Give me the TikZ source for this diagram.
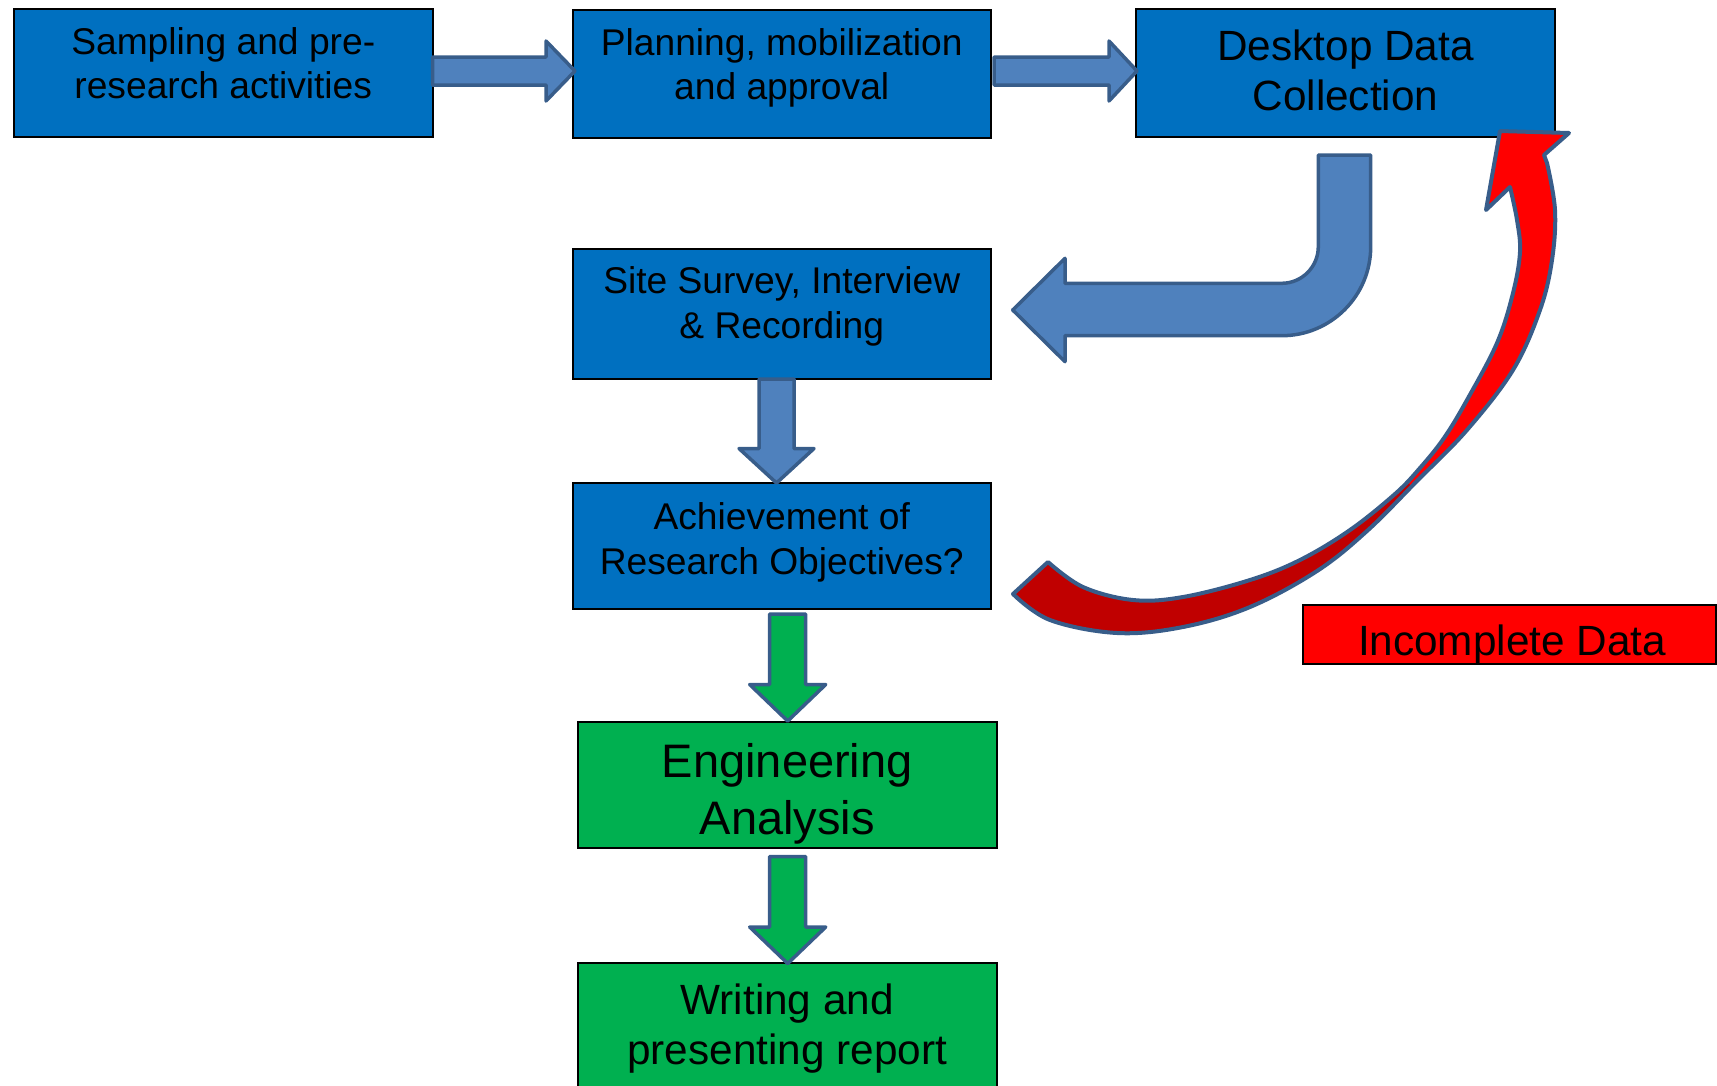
\documentclass[tikz,border=0pt]{standalone}
\usepackage{fontspec}
\setmainfont{Liberation Sans}
\usetikzlibrary{calc}
\definecolor{boxblue}{HTML}{0070C0}
\definecolor{arrblue}{HTML}{4F81BD}
\definecolor{arrline}{HTML}{385D8A}
\definecolor{boxgreen}{HTML}{00B050}
\definecolor{boxred}{HTML}{FF0000}
\definecolor{darkred}{HTML}{C00000}
\newcommand\hblock[6]{\draw[#1] let \p1=#2, \p2=#3 in ({\x1},{\y1+#4}) -- ({\x2-#6},{\y1+#4}) -- ({\x2-#6},{\y1+#5}) -- (\x2,\y2) -- ({\x2-#6},{\y1-#5}) -- ({\x2-#6},{\y1-#4}) -- ({\x1},{\y1-#4}) -- cycle;}
\newcommand\vblock[6]{\draw[#1] let \p1=#2, \p2=#3 in ({\x2-#4},{\y1}) -- ({\x2-#4},{\y2+#6}) -- ({\x2-#5},{\y2+#6}) -- (\x2,\y2) -- ({\x2+#5},{\y2+#6}) -- ({\x2+#4},{\y2+#6}) -- ({\x2+#4},{\y1}) -- cycle;}
\newcommand\ribbonpath{plot[smooth, tension=0.6] coordinates {(1013,594) (1050,620) (1117,633) (1183,627) (1250,607) (1317,571) (1367,531) (1417,481) (1467,430) (1513,370) (1540,310) (1552,260) (1555,210) (1547,163)}
  -- (1544,155) -- (1569,133) -- (1500,131) -- (1486,210) -- (1510,187)
  -- plot[smooth, tension=0.6] coordinates {(1510,187) (1517,220) (1520,252) (1513,293) (1497,343) (1467,400) (1444,438) (1420,468) (1395,494) (1350,530) (1300,560) (1250,580) (1183,597) (1133,600) (1083,587) (1048,562)} -- cycle}
\tikzset{
  box/.style={draw=black, line width=2pt, inner sep=0pt, outer sep=0pt, minimum width=418.5pt},
  txt/.style={inner sep=0pt, anchor=base, text=black},
  fs/.style={font=\fontsize{37.2pt}{44pt}\selectfont},
  fm/.style={font=\fontsize{42.3pt}{50pt}\selectfont},
  fl/.style={font=\fontsize{47pt}{56pt}\selectfont},
  barrow/.style={fill=arrblue, draw=arrline, line width=3.5pt, line join=round},
  garrow/.style={fill=boxgreen, draw=arrline, line width=3.5pt, line join=round},
  redarrow/.style={draw=arrline, line width=4pt, line join=round}
}
\begin{document}
\begin{tikzpicture}[x=1pt,y=-1pt]
\useasboundingbox (0,0) rectangle (1717,1085);
% boxes
\node[box, fill=boxblue, minimum height=128pt] (b1) at (223.25,72.5) {};
\node[box, fill=boxblue, minimum height=128pt] (b2) at (781.75,74) {};
\node[box, fill=boxblue, minimum height=128pt, minimum width=419pt] (b3) at (1345.5,72.5) {};
\node[box, fill=boxblue, minimum height=130.5pt] (b4) at (781.75,313.75) {};
\node[box, fill=boxblue, minimum height=126pt] (b5) at (781.75,546) {};
\node[box, fill=boxgreen, minimum height=126pt] (b6) at (787.25,785) {};
\node[box, fill=boxgreen, minimum height=137pt] (b7) at (787.25,1031.5) {};
\node[box, fill=boxred, minimum height=59pt, minimum width=413.5pt] (b8) at (1509.25,634.5) {};
% texts
\node[txt, fs] (t1a) at (223.25,54) {Sampling and pre-};
\node[txt, fs] (t1b) at (223.25,98) {research activities};
\node[txt, fs] (t2a) at (781.75,55) {Planning, mobilization};
\node[txt, fs] (t2b) at (781.75,99.5) {and approval};
\node[txt, fm] (t3a) at (1345.5,60) {Desktop Data};
\node[txt, fm] (t3b) at (1345.5,110) {Collection};
\node[txt, fs] (t4a) at (781.75,293.5) {Site Survey, Interview};
\node[txt, fs] (t4b) at (781.75,338) {\& Recording};
\node[txt, fs] (t5a) at (781.75,529.5) {Achievement of};
\node[txt, fs] (t5b) at (781.75,574) {Research Objectives?};
\node[txt, fl] (t6a) at (787.25,777.5) {Engineering};
\node[txt, fl] (t6b) at (787.25,834) {Analysis};
\node[txt, fm] (t7a) at (787.25,1014.5) {Writing and};
\node[txt, fm] (t7b) at (787.25,1064.5) {presenting report};
\node[txt, fm] (t8) at (1512,655) {Incomplete Data};
% straight block arrows
\coordinate (t12) at (575,71);
\hblock{barrow}{(b1.east |- t12)}{(t12)}{14pt}{30pt}{29pt}
\coordinate (t23) at (1137,71);
\hblock{barrow}{($(b2.east |- t23)+(3,0)$)}{(t23)}{14pt}{30pt}{28pt}
\coordinate (t45) at (776.5,483);
\vblock{barrow}{(t45 |- b4.south)}{(t45)}{17.5pt}{37.5pt}{34.5pt}
\coordinate (t56) at (787.7,721);
\vblock{garrow}{($(t56 |- b5.south)+(0,5)$)}{(t56)}{18pt}{38pt}{36.5pt}
\coordinate (t67) at (787.7,963.5);
\vblock{garrow}{($(t67 |- b6.south)+(0,8.5)$)}{(t67)}{18pt}{38pt}{36.5pt}
% bent arrow from Desktop Data Collection to Site Survey
\coordinate (bs) at (1344.5,155);
\coordinate (bt) at (1012.7,310);
\draw[barrow] ($(bs)+(-26.2,0)$) -- ($(bs)+(26.2,0)$) -- (1370.7,246.7)
  .. controls (1370.7,295.9) and (1330.9,335.7) .. (1281.7,335.7)
  -- (1065,335.7) -- (1065,361.7) -- (bt) -- (1065,258.3) -- (1065,283.3) -- (1281.7,283.3)
  .. controls (1301.9,283.3) and (1318.3,266.9) .. (1318.3,246.7) -- cycle;
% red curved arrow (Incomplete Data loop)
\begin{scope}
  \clip \ribbonpath;
  \fill[boxred] (900,0) rectangle (1717,1085);
  \fill[darkred] (925,0) -- (2025,1100) -- (0,1100) -- (0,0) -- cycle;
\end{scope}
\draw[redarrow] \ribbonpath;
\end{tikzpicture}
\end{document}
